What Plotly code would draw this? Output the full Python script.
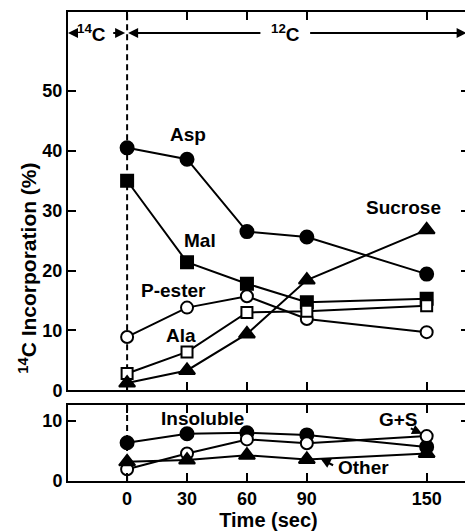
import plotly.graph_objects as go

time = [0, 30, 60, 90, 150]
asp = [40.5, 38.6, 26.5, 25.6, 19.4]
mal = [35.0, 21.4, 17.8, 14.7, 15.3]
p_ester = [8.9, 13.8, 15.7, 11.9, 9.7]
ala = [2.8, 6.4, 13.0, 13.2, 14.1]
sucrose = [1.2, 3.3, 9.4, 18.4, 26.8]

insoluble = [6.4, 7.9, 8.05, 7.7, 5.7]
g_s = [1.95, 4.6, 6.95, 6.3, 7.5]
other = [3.2, 3.5, 4.3, 3.6, 4.6]

x_ticks = [0, 30, 60, 90, 150]
y_ticks_top = [0, 10, 20, 30, 40, 50]
y_ticks_bot = [0, 10]

FONT = "Liberation Sans"
BLACK = "black"

fig = go.Figure()

def add(x, y, symbol, size, filled, xa, ya):
    fig.add_trace(go.Scatter(
        x=x, y=y, mode="lines+markers", xaxis=xa, yaxis=ya,
        line=dict(color=BLACK, width=2),
        marker=dict(symbol=symbol, size=size,
                    color=BLACK if filled else "white",
                    line=dict(color=BLACK, width=2)),
        showlegend=False, cliponaxis=False))

# top panel
add(time, asp, "circle", 13, True, "x", "y")
add(time, mal, "square", 12, True, "x", "y")
add(time, p_ester, "circle", 12, False, "x", "y")
add(time, ala, "square", 11, False, "x", "y")
add(time, sucrose, "triangle-up", 14, True, "x", "y")
# bottom panel
add(time, insoluble, "circle", 13, True, "x2", "y2")
add(time, g_s, "circle", 12, False, "x2", "y2")
add(time, other, "triangle-up", 14, True, "x2", "y2")

XR = [-29.6, 171.2]
YR_TOP = [0, 63.2]
YR_BOT = [0, 12.67]

axis_common = dict(showline=True, linecolor=BLACK, linewidth=2, mirror="ticks",
                   ticks="inside", ticklen=8, tickwidth=2, tickcolor=BLACK,
                   showgrid=False, zeroline=False,
                   tickfont=dict(family=FONT, size=18, color=BLACK, weight="bold"))

# page body has an 8px default margin, so the figure is sized to fit the window
fig.update_layout(
    width=465, height=523,
    margin=dict(l=60, r=2, t=3, b=50),
    paper_bgcolor="white", plot_bgcolor="white",
    font=dict(family=FONT, color=BLACK),
    xaxis=dict(domain=[0, 1], range=XR, anchor="y", tickvals=x_ticks,
               showticklabels=False, **axis_common),
    yaxis=dict(domain=[0.1936, 1], range=YR_TOP, anchor="x", tickvals=y_ticks_top,
               **axis_common),
    xaxis2=dict(domain=[0, 1], range=XR, anchor="y2", tickvals=x_ticks,
                title=dict(text="Time (sec)", font=dict(family=FONT, size=20, weight="bold"),
                           standoff=4),
                **axis_common),
    yaxis2=dict(domain=[0, 0.1617], range=YR_BOT, anchor="x2", tickvals=y_ticks_bot,
                **axis_common),
)

# dashed vertical line at t = 0
fig.add_shape(type="line", xref="x", yref="y", x0=0, x1=0, y0=0, y1=YR_TOP[1],
              line=dict(color=BLACK, width=2, dash="6px,4px"), layer="below")
fig.add_shape(type="line", xref="x2", yref="y2", x0=0, x1=0, y0=0, y1=YR_BOT[1],
              line=dict(color=BLACK, width=2, dash="6px,4px"), layer="below")

lab_font = dict(family=FONT, size=19, color=BLACK, weight="bold")

def label(text, x, y, xref="x", yref="y"):
    fig.add_annotation(text=text, x=x, y=y, xref=xref, yref=yref, showarrow=False,
                       font=lab_font, xanchor="center", yanchor="middle")

def arrow(x, y, ax, ay, xref="x", yref="y"):
    fig.add_annotation(text="", x=x, y=y, ax=ax, ay=ay, xref=xref, yref=yref,
                       axref=xref, ayref=yref, showarrow=True, arrowhead=2,
                       arrowsize=1, arrowwidth=2, arrowcolor=BLACK, standoff=0,
                       startstandoff=0)

label("Asp", 30.6, 42.8)
label("Mal", 36.6, 25.0)
label("P-ester", 23.2, 16.7)
label("Ala", 27.2, 9.2)
label("Sucrose", 138.3, 30.5)
label("Insoluble", 37.6, 10.5, "x2", "y2")
label("G+S", 135.8, 10.2, "x2", "y2")
label("Other", 118.3, 2.2, "x2", "y2")
arrow(147.7, 7.9, 141.3, 8.9, "x2", "y2")
arrow(96.9, 3.7, 103.9, 2.5, "x2", "y2")

# 14C / 12C band
YB = 59.7
label("<sup>14</sup>C", -18.0, YB)
label("<sup>12</sup>C", 79.5, YB)
arrow(-29.6, YB, -25.2, YB)
arrow(-1.0, YB, -7.7, YB)
arrow(0.5, YB, 67.5, YB)
arrow(170.0, YB, 90.9, YB)

# y axis title
fig.add_annotation(text="<sup>14</sup>C Incorporation (%)", xref="paper", yref="paper",
                   x=-0.102, y=0.453, textangle=-90, showarrow=False,
                   font=dict(family=FONT, size=21, color=BLACK, weight="bold"),
                   xanchor="center", yanchor="middle")

fig.write_html("out.html")
